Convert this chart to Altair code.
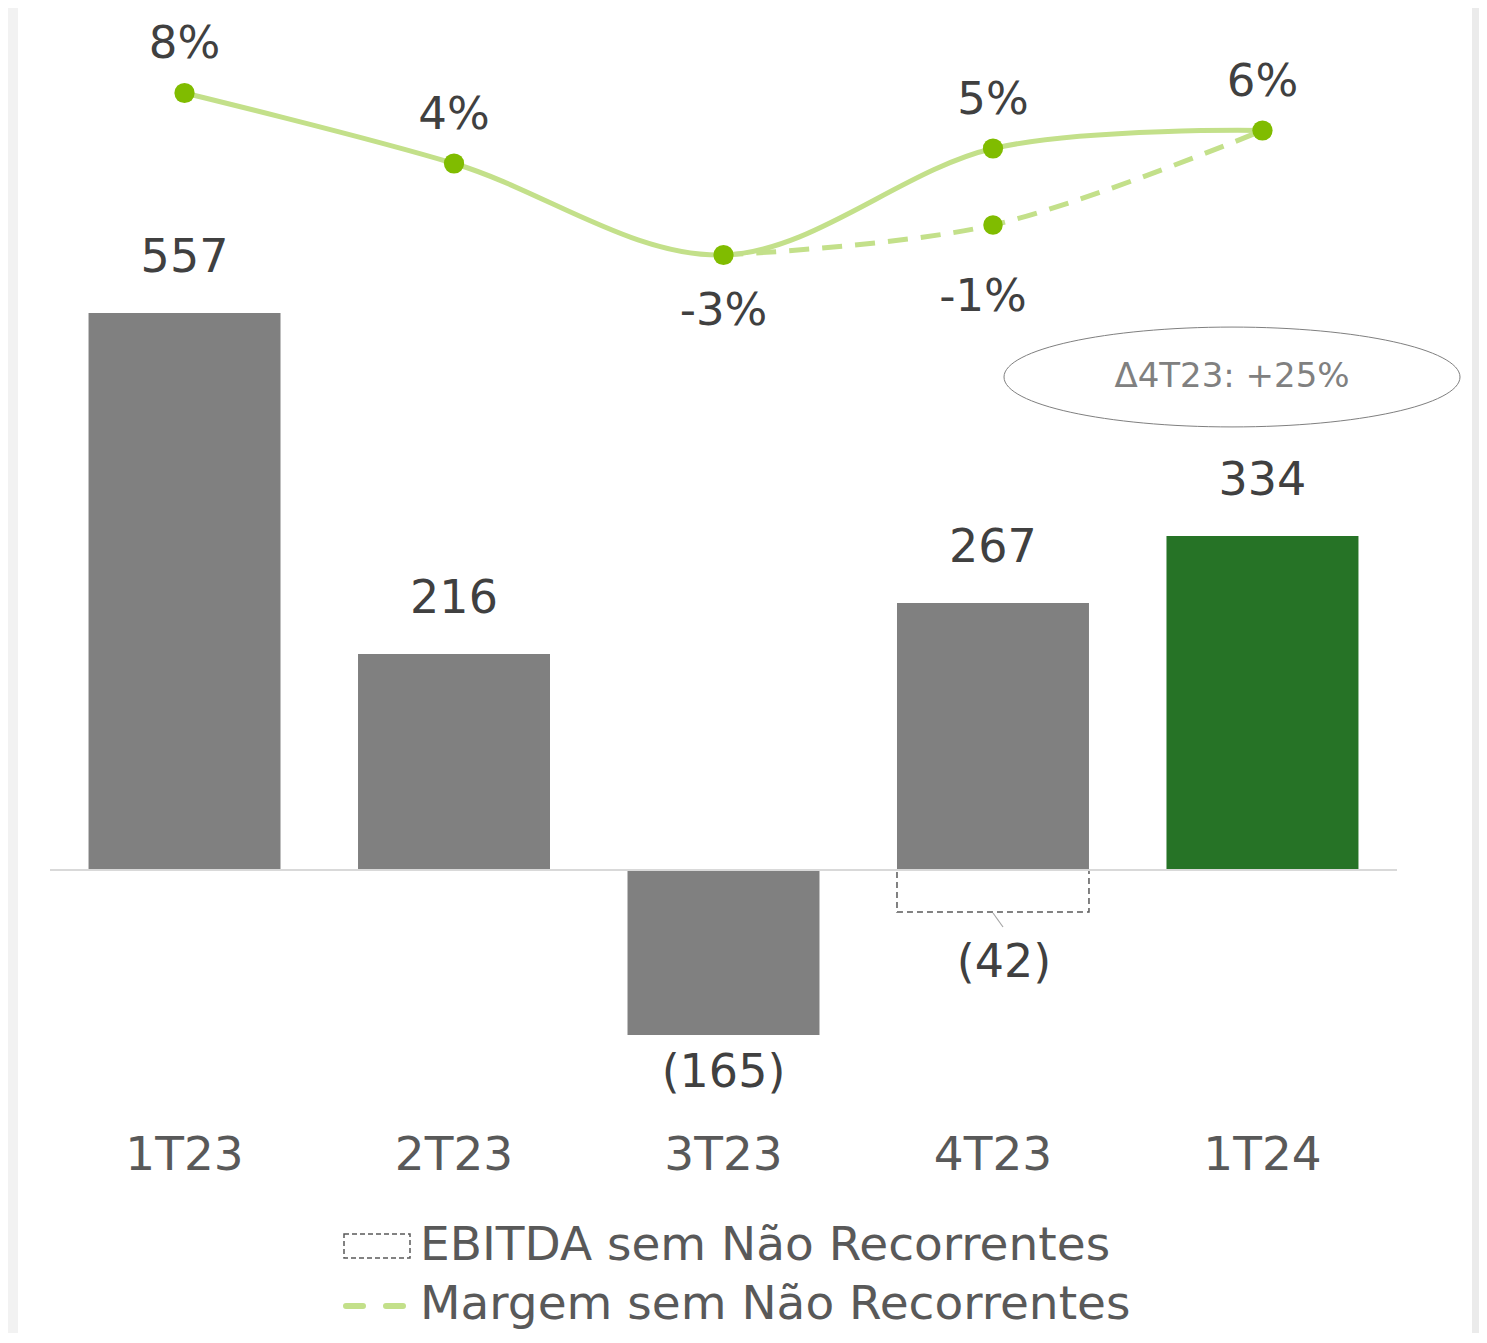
import altair as alt
import pandas as pd

# ---- data ----
categorias = ["1T23", "2T23", "3T23", "4T23", "1T24"]
ebitda = [557, 216, -165, 267, 334]
ebitda_rotulos = ["557", "216", "(165)", "267", "334"]
ebitda_cores = ["#808080", "#808080", "#808080", "#808080", "#267326"]

nr_categoria = ["4T23"]
nr_valor = [-42]
nr_rotulo = ["(42)"]

margem = [8.0, 3.3, -2.8, 4.3, 5.5]
margem_rotulos = ["8%", "4%", "-3%", "5%", "6%"]

margem_snr_categorias = ["3T23", "4T23", "1T24"]
margem_snr = [-2.8, -0.8, 5.5]
margem_snr_rotulos = ["", "-1%", ""]

legenda = ["EBITDA sem Não Recorrentes", "Margem sem Não Recorrentes"]
anotacao = "Δ4T23: +25%"

FONT = "DejaVu Sans"
LINE = "#c3e08a"
DOT = "#80bc00"

df_bar = pd.DataFrame({"cat": categorias, "val": ebitda, "rot": ebitda_rotulos, "cor": ebitda_cores})
df_nr = pd.DataFrame({"cat": nr_categoria, "val": nr_valor, "rot": nr_rotulo})
df_m = pd.DataFrame({"cat": categorias, "m": margem, "rot": margem_rotulos})
df_snr = pd.DataFrame({"cat": margem_snr_categorias, "m": margem_snr, "rot": margem_snr_rotulos})
one = pd.DataFrame({"a": [0]})

# secondary (margin) axis expressed on the primary scale: 1 p.p. = 15 units
MARGIN_EXPR = "657 + 15 * datum.m"

xenc = alt.X(
    "cat:N",
    sort=categorias,
    scale=alt.Scale(paddingInner=0.2876, paddingOuter=0.143),
    axis=alt.Axis(
        title=None, domain=False, ticks=False, grid=False, labelAngle=0,
        labelFontSize=47, labelColor="#595959", labelFont=FONT,
        labelPadding=0, labelBaseline="middle", offset=-170,
    ),
)
xs = alt.X("cat:N", sort=categorias)
yscale = alt.Scale(domain=[-455, 862], nice=False, zero=False)
yenc = alt.Y("val:Q", scale=yscale, axis=None)
ym = alt.Y("mv:Q", scale=yscale, axis=None)

side_l = alt.Chart(one).mark_rect(color="#f2f2f2").encode(
    x=alt.value(-42), x2=alt.value(-32), y=alt.value(0), y2=alt.value(1325)
)
side_r = alt.Chart(one).mark_rect(color="#ebebeb").encode(
    x=alt.value(1422), x2=alt.value(1440), y=alt.value(0), y2=alt.value(1325)
)

bars = alt.Chart(df_bar).mark_bar().encode(
    x=xenc, y=yenc, color=alt.Color("cor:N", scale=None)
)
nr_box = alt.Chart(df_nr).mark_bar(
    fill="white", fillOpacity=0, stroke="#595959", strokeDash=[6, 4], strokeWidth=1.5
).encode(x=xs, y=yenc, y2=alt.datum(0))

baseline = alt.Chart(one).mark_rule(color="#d9d9d9", strokeWidth=2).encode(
    x=alt.value(0), x2=alt.value(1347), y=alt.value(862)
)

lab_pos = alt.Chart(df_bar).transform_filter("datum.val > 0").mark_text(
    font=FONT, fontSize=46, color="#404040", dy=-55, baseline="middle"
).encode(x=xs, y=yenc, text="rot:N")
lab_neg = alt.Chart(df_bar).transform_filter("datum.val < 0").mark_text(
    font=FONT, fontSize=46, color="#404040", dy=38, baseline="middle"
).encode(x=xs, y=yenc, text="rot:N")
lab_nr = alt.Chart(df_nr).mark_text(
    font=FONT, fontSize=46, color="#404040", dy=51, dx=11, baseline="middle"
).encode(x=xs, y=yenc, text="rot:N")

connector = alt.Chart(one).mark_rule(color="#a6a6a6", strokeWidth=1.2).encode(
    x=alt.value(943), x2=alt.value(953), y=alt.value(905), y2=alt.value(919)
)

ellipse = alt.Chart(one).mark_point(
    shape="M -1 0 A 1 0.219 0 1 0 1 0 A 1 0.219 0 1 0 -1 0",
    filled=False, stroke="#7f7f7f", strokeWidth=1, size=456 * 456, opacity=1,
).encode(x=alt.value(1182), y=alt.value(369))
ellipse_txt = alt.Chart(one).mark_text(
    text=anotacao, font=FONT, fontSize=34, color="#808080", baseline="middle"
).encode(x=alt.value(1182), y=alt.value(369))

leg_box = alt.Chart(one).mark_rect(
    fill="white", stroke="#595959", strokeDash=[5, 3], strokeWidth=1.5
).encode(x=alt.value(294), x2=alt.value(360), y=alt.value(1226), y2=alt.value(1250))
leg_line = alt.Chart(one).mark_rule(
    color=LINE, strokeWidth=6, strokeDash=[17, 23], strokeCap="round"
).encode(x=alt.value(296), x2=alt.value(356), y=alt.value(1298))
leg_t1 = alt.Chart(one).mark_text(
    text=legenda[0], font=FONT, fontSize=47, color="#595959", align="left", baseline="middle"
).encode(x=alt.value(370), y=alt.value(1238))
leg_t2 = alt.Chart(one).mark_text(
    text=legenda[1], font=FONT, fontSize=47, color="#595959", align="left", baseline="middle"
).encode(x=alt.value(370), y=alt.value(1297))

m_base = alt.Chart(df_m).transform_calculate(mv=MARGIN_EXPR)
snr_base = alt.Chart(df_snr).transform_calculate(mv=MARGIN_EXPR)

m_line = m_base.mark_line(color=LINE, strokeWidth=5, interpolate="cardinal").encode(x=xs, y=ym)
snr_line = snr_base.mark_line(
    color=LINE, strokeWidth=5, interpolate="cardinal", strokeDash=[20, 13]
).encode(x=xs, y=ym)
m_pts = m_base.mark_circle(color=DOT, size=410, opacity=1).encode(x=xs, y=ym)
snr_pt = snr_base.transform_filter("datum.rot != ''").mark_circle(
    color=DOT, size=380, opacity=1
).encode(x=xs, y=ym)
m_lab_up = m_base.transform_filter("datum.m > 0").mark_text(
    font=FONT, fontSize=45, color="#404040", dy=-49, baseline="middle"
).encode(x=xs, y=ym, text="rot:N")
m_lab_dn = m_base.transform_filter("datum.m < 0").mark_text(
    font=FONT, fontSize=45, color="#404040", dy=56, baseline="middle"
).encode(x=xs, y=ym, text="rot:N")
snr_lab = snr_base.transform_filter("datum.rot != ''").mark_text(
    font=FONT, fontSize=45, color="#404040", dy=72, dx=-10, baseline="middle"
).encode(x=xs, y=ym, text="rot:N")

chart = (
    alt.layer(
        side_l, side_r, bars, nr_box, baseline, lab_pos, lab_neg, lab_nr, connector,
        ellipse, ellipse_txt, leg_box, leg_line, leg_t1, leg_t2,
        m_line, snr_line, m_pts, snr_pt, m_lab_up, m_lab_dn, snr_lab,
    )
    .properties(
        width=1347, height=1317,
        autosize=alt.AutoSizeParams(type="none"),
        padding={"left": 42, "top": 0, "right": 82, "bottom": 8},
        background="white",
    )
    .configure_view(stroke=None)
)

chart.save("out.html", embed_options={"renderer": "svg", "actions": False})
